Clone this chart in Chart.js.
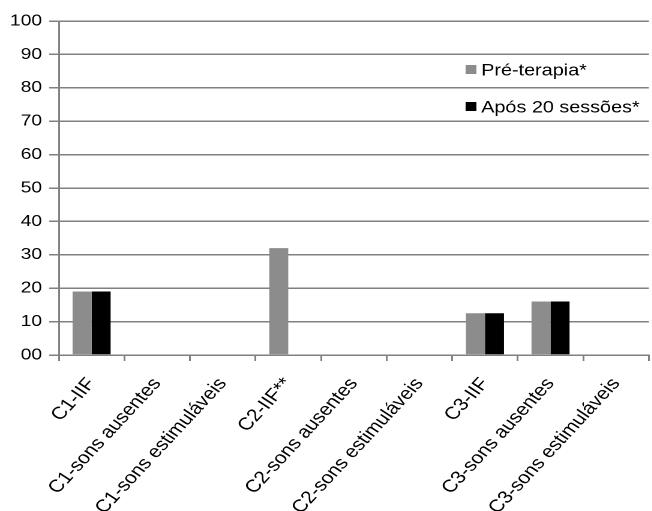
<!DOCTYPE html>
<html>
<head>
<meta charset="utf-8">
<script src="https://cdn.jsdelivr.net/npm/chart.js@4/dist/chart.umd.min.js"></script>
<style>
  html, body { margin: 0; padding: 0; background: #fff; overflow: hidden; }
  /* the reference is horizontally stretched (~1.2x), so the chart is drawn narrower and scaled */
  #wrap { width: 543px; height: 511px; transform: scaleX(1.2); transform-origin: 0 0; }
</style>
</head>
<body>
<div id="wrap"><canvas id="myChart"></canvas></div>
<script>
const categories = ['C1-IIF', 'C1-sons ausentes', 'C1-sons estimuláveis', 'C2-IIF**', 'C2-sons ausentes', 'C2-sons estimuláveis', 'C3-IIF', 'C3-sons ausentes', 'C3-sons estimuláveis'];
const preTerapia = [19, 0, 0, 32, 0, 0, 12.5, 16, 0];
const apos20 = [19, 0, 0, null, 0, 0, 12.5, 16, 0];
const seriesNames = ['Pré-terapia*', 'Após 20 sessões*'];
const seriesColors = ['#8c8c8c', '#000000'];

const font = "'Liberation Sans', Arial, sans-serif";
Chart.defaults.font.family = font;
Chart.defaults.color = '#000';

// legend drawn inside plot area (top right)
const innerLegend = {
  id: 'innerLegend',
  afterDraw(chart) {
    const ctx = chart.ctx;
    ctx.save();
    ctx.font = '16.5px ' + font;
    ctx.textBaseline = 'middle';
    const ys = [70, 107];
    chart.data.datasets.forEach((ds, i) => {
      ctx.fillStyle = ds.backgroundColor;
      ctx.fillRect(388, ys[i] - 5, 9, 9);
      ctx.fillStyle = '#000';
      ctx.fillText(ds.label, 401, ys[i] + 1);
    });
    ctx.restore();
  }
};

const ctx = document.getElementById('myChart');
new Chart(ctx, {
  type: 'bar',
  data: {
    labels: categories,
    datasets: [
      { label: seriesNames[0], data: preTerapia, backgroundColor: seriesColors[0] },
      { label: seriesNames[1], data: apos20, backgroundColor: seriesColors[1] }
    ]
  },
  options: {
    responsive: true,
    maintainAspectRatio: false,
    animation: false,
    devicePixelRatio: 2,
    layout: { padding: { top: 21, right: 1, left: 0, bottom: 0 } },
    plugins: { legend: { display: false }, tooltip: { enabled: false } },
    datasets: { bar: { categoryPercentage: 0.58, barPercentage: 1 } },
    scales: {
      x: {
        grid: { drawOnChartArea: false, drawTicks: true, tickLength: 6, color: '#808080', lineWidth: 1.5 },
        border: { color: '#808080', width: 1.5 },
        ticks: { font: { size: 17.5 }, maxRotation: 52, minRotation: 52, autoSkip: false, padding: 13 },
        afterFit(scale) { scale.height = 156; }
      },
      y: {
        min: 0,
        max: 100,
        grid: { color: '#808080', lineWidth: 1.5, tickLength: 8 },
        border: { color: '#808080', width: 1.5 },
        ticks: {
          stepSize: 10,
          font: { size: 16 },
          padding: 6,
          callback: v => v === 0 ? '00' : v
        },
        afterFit(scale) { scale.width = 49; }
      }
    }
  },
  plugins: [innerLegend]
});
</script>
</body>
</html>
